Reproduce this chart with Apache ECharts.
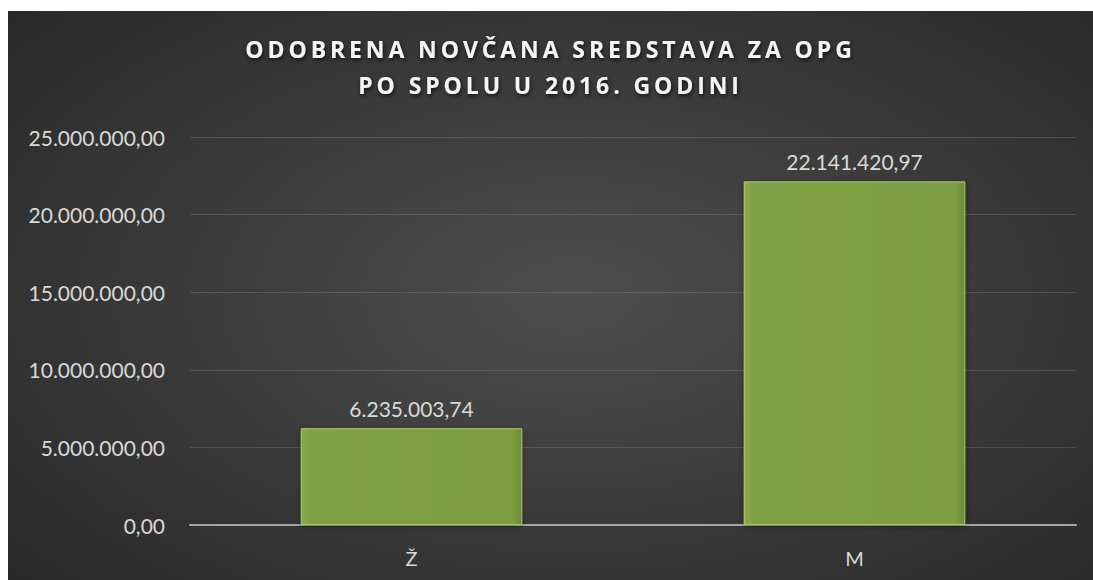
<!DOCTYPE html>
<html>
<head>
<meta charset="utf-8">
<script src="https://cdn.jsdelivr.net/npm/echarts@6/dist/echarts.min.js"></script>
<style>
  html, body { margin: 0; padding: 0; background: #ffffff; }
  #chart {
    position: absolute; left: 8px; top: 11px; width: 1085px; height: 569px;
    background: radial-gradient(ellipse 75% 80% at 52% 50%, #4e4e4e 0%, #3c3c3c 45%, #262626 100%);
  }
</style>
</head>
<body>
<div id="chart"></div>
<script>
const titleLines = ['ODOBRENA NOVČANA SREDSTAVA ZA OPG', 'PO SPOLU U 2016. GODINI'];
const categories = ['Ž', 'M'];
const values = [6235003.74, 22141420.97];
const yTicks = [0, 5000000, 10000000, 15000000, 20000000, 25000000];

function fmt(v) {
  const parts = v.toFixed(2).split('.');
  const intPart = parts[0].replace(/\B(?=(\d{3})+(?!\d))/g, '.');
  return intPart + ',' + parts[1];
}

const chart = echarts.init(document.getElementById('chart'), null, { renderer: 'svg' });
const option = {
  animation: false,
  backgroundColor: 'transparent',
  title: {
    text: titleLines.join('\n'),
    left: 'center',
    top: 15,
    textStyle: {
      fontFamily: 'Open Sans',
      fontWeight: 'bold',
      fontSize: 23,
      lineHeight: 36,
      color: '#f4f4f4',
      textShadowColor: 'rgba(0,0,0,0.7)',
      textShadowBlur: 4,
      textShadowOffsetX: 1,
      textShadowOffsetY: 2
    }
  },
  grid: { left: 182, right: 17, top: 126, bottom: 55 },
  xAxis: {
    type: 'category',
    data: categories,
    axisLine: { show: true, lineStyle: { color: '#a6a6a6', width: 2 } },
    axisTick: { show: false },
    axisLabel: { color: '#d9d9d9', fontFamily: 'Lato', fontSize: 20, margin: 23 }
  },
  yAxis: {
    type: 'value',
    min: yTicks[0],
    max: yTicks[yTicks.length - 1],
    interval: yTicks[1] - yTicks[0],
    axisLine: { show: false },
    axisTick: { show: false },
    splitLine: { lineStyle: { color: 'rgba(255,255,255,0.13)', width: 1 } },
    axisLabel: {
      color: '#d9d9d9', fontFamily: 'Lato', fontSize: 21, margin: 25,
      formatter: function (v) { return fmt(v); }
    }
  },
  series: [{
    type: 'bar',
    data: values,
    barWidth: '50%',
    itemStyle: {
      color: {
        type: 'linear', x: 0, y: 0, x2: 1, y2: 0,
        colorStops: [
          { offset: 0, color: '#8aab4c' },
          { offset: 0.04, color: '#80a044' },
          { offset: 0.96, color: '#7d9c42' },
          { offset: 1, color: '#6d8a38' }
        ]
      },
      borderColor: '#a9cc6a',
      borderWidth: 1,
      shadowColor: 'rgba(0,0,0,0.35)',
      shadowBlur: 6,
      shadowOffsetY: 2
    },
    label: {
      show: true,
      position: 'top',
      distance: 9,
      color: '#d9d9d9',
      fontFamily: 'Lato',
      fontSize: 21,
      formatter: function (p) { return fmt(p.value); }
    }
  }]
};
chart.setOption(option);

function spaceTitle() {
  const texts = document.querySelectorAll('#chart svg text, #chart svg tspan');
  texts.forEach(function (t) {
    const c = t.textContent || '';
    if (c.indexOf('ODOBRENA') >= 0 || c.indexOf('SPOLU') >= 0) {
      t.style.letterSpacing = '3.9px';
    }
  });
}
chart.on('finished', spaceTitle);
spaceTitle();
</script>
</body>
</html>
